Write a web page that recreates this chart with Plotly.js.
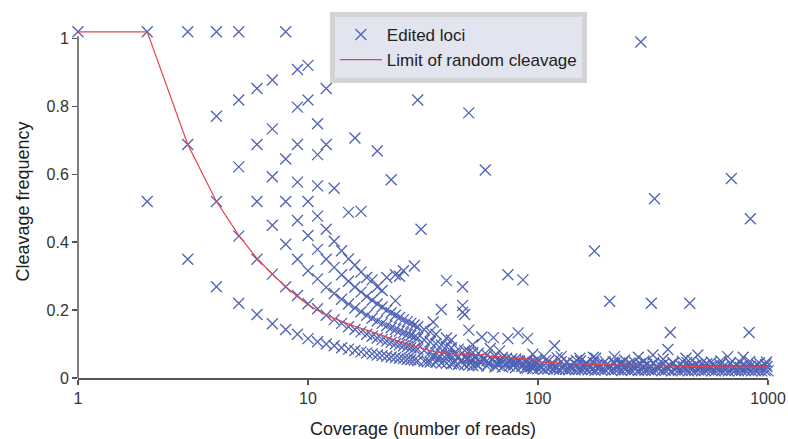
<!DOCTYPE html>
<html>
<head>
<meta charset="utf-8">
<script src="https://cdn.plot.ly/plotly-3.0.1.min.js"></script>
<style>html,body{margin:0;padding:0;background:#fff;}#chart{width:788px;height:439px;}</style>
</head>
<body>
<div id="chart"></div>
<script>
// Edited loci, low coverage (1-13 reads)
const lowX = [1, 2,2, 3,3,3, 4,4,4,4, 5,5,5,5,5, 6,6,6,6,6, 7,7,7,7,7,7, 8,8,8,8,8,8,
  9,9,9,9,9,9,9,9, 10,10,10,10,10,10,10, 11,11,11,11,11,11,11,11, 12,12,12,12,12,12,12, 13,13,13,13,13,13];
const lowY = [1.02, 1.02,0.52, 1.02,0.688,0.35, 1.02,0.771,0.52,0.269, 1.02,0.819,0.622,0.418,0.22,
  0.853,0.688,0.52,0.35,0.187, 0.878,0.734,0.593,0.45,0.306,0.16, 1.02,0.645,0.52,0.394,0.269,0.143,
  0.909,0.798,0.688,0.577,0.464,0.35,0.243,0.129, 0.921,0.819,0.52,0.42,0.316,0.219,0.116,
  0.749,0.658,0.566,0.477,0.379,0.292,0.204,0.107, 0.853,0.688,0.438,0.35,0.267,0.185,0.1,
  0.559,0.403,0.326,0.249,0.172,0.095];

// Edited loci, 14-40 reads
const midX = [14,14,14,14,14, 15,15,15,15,15,15, 16,16,16,16,16,16, 17,17,17,17,17,17,
  18,18,18,18,18, 19,19,19,19,19, 20,20,20,20,20,20, 21,21,21,21,21, 22,22,22,22,22,
  23,23,23,23,23, 24,24,24,24,24,24, 25,25,25,25,25, 26,26,26,26,26, 27,27,27,27,
  28,28,28,28, 29,29,29,29,29, 30,30,30,30,30, 31, 32,32,32,32, 34,34,34,34, 35,
  36,36,36,36, 38,38,38,38, 40,40,40,40,40];
const midY = [0.375,0.304,0.232,0.161,0.089, 0.488,0.351,0.285,0.218,0.151,0.085,
  0.707,0.333,0.268,0.206,0.143,0.081, 0.491,0.312,0.253,0.195,0.136,0.077,
  0.296,0.24,0.185,0.129,0.074, 0.289,0.229,0.176,0.123,0.071, 0.669,0.268,0.218,0.168,0.118,0.068,
  0.258,0.209,0.161,0.113,0.066, 0.296,0.2,0.154,0.109,0.064, 0.584,0.192,0.148,0.105,0.062,
  0.304,0.228,0.185,0.143,0.101,0.06, 0.3,0.178,0.138,0.098,0.058, 0.316,0.172,0.133,0.095,0.057,
  0.166,0.129,0.092,0.055, 0.161,0.125,0.089,0.054, 0.33,0.156,0.121,0.087,0.053,
  0.819,0.151,0.118,0.085,0.051, 0.438, 0.143,0.112,0.081,0.049, 0.136,0.106,0.077,0.047, 0.165,
  0.129,0.101,0.074,0.046, 0.202,0.097,0.071,0.044, 0.287,0.118,0.093,0.068,0.043];

// Edited loci, 42-95 reads
const highX = [42,42,42,42, 45,45,45, 47,47,47, 48,48,48,48, 50,50,50,50,50, 52,52,52,52,
  55,55,55, 57, 59, 60,60,60, 62, 64, 65,65,65, 68,68, 70,70,70, 74,74, 77,77, 80,80,80,
  82, 86, 88,88, 90,90,90,90, 95,95,95,95];
const highY = [0.112,0.089,0.066,0.042, 0.085,0.062,0.04, 0.269,0.214,0.194, 0.187,0.081,0.06,0.039,
  0.781,0.141,0.078,0.058,0.038, 0.098,0.075,0.056,0.037, 0.073,0.054,0.036, 0.121, 0.613,
  0.068,0.051,0.035, 0.087, 0.119, 0.064,0.049,0.033, 0.08,0.047, 0.061,0.047,0.032, 0.304,0.116,
  0.056,0.044, 0.056,0.043,0.031, 0.133, 0.289, 0.05,0.029, 0.116,0.051,0.04,0.029,
  0.07,0.046,0.036,0.028];

// Extra loci in the 30-100 band
const extraX = [33,35,37,39,41,43,44,46,49,51,53,54,56,58,61,63,66,67,69,72,73,75,76,78,79,83,85,87,92,93,97];
const extraY = [0.048,0.062,0.058,0.052,0.067,0.044,0.071,0.05,0.056,0.046,0.06,0.04,0.048,0.053,0.042,
  0.055,0.045,0.038,0.052,0.04,0.058,0.035,0.048,0.037,0.044,0.05,0.034,0.041,0.045,0.033,0.039];

// Isolated loci above the band (100-1000 reads)
const scatX = [280,321,693,838,176,205,311,457,376,827,118,367,215,126,174,273,316,495,668,780,440,106,152,233,977];
const scatY = [0.99,0.528,0.588,0.469,0.374,0.226,0.22,0.22,0.134,0.134,0.095,0.084,0.063,0.063,0.061,
  0.061,0.068,0.068,0.063,0.061,0.058,0.063,0.058,0.044,0.039];

// Dense band of loci (high coverage, low frequency)
const denseX = [95,100,103,106,110,113,117,120,124,128, 132,136,140,145,150,155,160,165,171,177,
  183,189,195,202,209,216,223,231,239,247, 255,264,273,282,292,302,312,323,334,345,
  357,369,381,394,408,422,436,451,466,482, 498,515,533,551,570,589,609,630,651,673,
  696,720,744,769,795,822,850,879,909,940, 972,1000];
const denseY = [0.028,0.027,0.029,0.026,0.027,0.03,0.026,0.027,0.025,0.028,
  0.026,0.025,0.027,0.024,0.026,0.025,0.028,0.024,0.025,0.023,
  0.026,0.024,0.025,0.027,0.023,0.024,0.026,0.022,0.025,0.024,
  0.023,0.026,0.022,0.024,0.023,0.025,0.022,0.024,0.026,0.022,
  0.023,0.025,0.021,0.024,0.022,0.023,0.025,0.021,0.023,0.022,
  0.024,0.021,0.023,0.025,0.022,0.021,0.024,0.022,0.023,0.021,
  0.024,0.022,0.021,0.023,0.022,0.024,0.021,0.022,0.023,0.021, 0.022,0.021];
const dense2X = [98,102,108,115,119,126,130,138,143,148, 153,158,163,168,174,180,186,192,199,206,
  212,220,227,235,243,251,260,268,278,287, 297,307,318,328,340,351,363,375,388,401,
  415,429,444,458,474,490,506,524,542,560, 580,599,620,640,662,685,708,732,757,782,
  808,836,864,894,925,990];
const dense2Y = [0.045,0.038,0.052,0.041,0.036,0.048,0.04,0.035,0.044,0.038,
  0.05,0.036,0.042,0.034,0.046,0.037,0.033,0.043,0.039,0.035,
  0.047,0.036,0.041,0.033,0.038,0.044,0.034,0.036,0.042,0.033,
  0.039,0.035,0.045,0.032,0.037,0.041,0.033,0.036,0.043,0.032,
  0.038,0.034,0.046,0.033,0.036,0.04,0.032,0.035,0.042,0.033,
  0.037,0.031,0.039,0.034,0.032,0.044,0.033,0.036,0.031,0.038,
  0.033,0.035,0.031,0.04,0.032,0.034];
const dense3X = [99,111,121,134,147,162,178,196,216,238,262,289,318,350,386,425,468,515,567,624,687,756,833,917,985];
const dense3Y = [0.055,0.05,0.06,0.047,0.052,0.045,0.058,0.049,0.044,0.053,0.047,0.05,0.043,0.055,0.046,
  0.049,0.052,0.044,0.047,0.05,0.043,0.046,0.049,0.044,0.047];

// Limit of random cleavage
const limitX = [1,2,3,4,5,6,7,8,9,10,12,14,16,18,20,25,30,35,40,45,50,55,58,62,68,75,85,95,100,130,200,300,400,600,800,1000];
const limitY = [1.02,1.02,0.688,0.52,0.42,0.352,0.306,0.268,0.24,0.216,0.185,0.167,0.152,0.141,0.131,0.107,0.092,0.078,0.073,0.07,0.068,0.066,0.071,0.064,0.063,0.06,0.057,0.054,0.048,0.043,0.039,0.036,0.034,0.033,0.032,0.033];

const locX = [].concat(lowX, midX, highX, extraX, scatX, denseX, dense2X, dense3X);
const locY = [].concat(lowY, midY, highY, extraY, scatY, denseY, dense2Y, dense3Y);

const FONT = '"Liberation Sans", Arial, Helvetica, sans-serif';
const AXIS_COLOR = '#555';

const traces = [
  {
    x: locX, y: locY, type: 'scatter', mode: 'markers', name: 'Edited loci',
    cliponaxis: false,
    marker: {symbol: 'x-thin-open', size: 11, color: '#5062b4', line: {width: 1.3, color: '#5062b4'}}
  },
  {
    x: limitX, y: limitY, type: 'scatter', mode: 'lines', name: 'Limit of random cleavage',
    cliponaxis: false,
    line: {color: '#e8424f', width: 1.2}
  }
];

const layout = {
  width: 788, height: 439,
  margin: {l: 78, r: 20, t: 22, b: 61},
  paper_bgcolor: '#ffffff', plot_bgcolor: '#ffffff',
  font: {family: FONT, color: '#222'},
  showlegend: true,
  legend: {
    x: 0.365, y: 1.037, xanchor: 'left', yanchor: 'top',
    bgcolor: '#e2e4f0', bordercolor: '#d4d4d4', borderwidth: 5,
    font: {family: FONT, size: 17, color: '#222'},
    itemwidth: 42,
    tracegroupgap: 0
  },
  xaxis: {
    type: 'log', range: [0, 3],
    tickvals: [1, 10, 100, 1000], ticktext: ['1', '10', '100', '1000'],
    showgrid: false, zeroline: false,
    showline: true, linecolor: AXIS_COLOR, linewidth: 1.5,
    ticks: 'outside', ticklen: 5, tickcolor: AXIS_COLOR, tickwidth: 1.5,
    tickfont: {family: FONT, size: 16, color: '#333'},
    title: {text: 'Coverage (number of reads)', standoff: 23, font: {family: FONT, size: 18, color: '#222'}}
  },
  yaxis: {
    range: [0, 1.04],
    tickvals: [0, 0.2, 0.4, 0.6, 0.8, 1], ticktext: ['0', '0.2', '0.4', '0.6', '0.8', '1'],
    showgrid: false, zeroline: false,
    showline: false,
    ticks: 'outside', ticklen: 5, tickcolor: AXIS_COLOR, tickwidth: 1.5,
    tickfont: {family: FONT, size: 16, color: '#333'},
    title: {text: 'Cleavage frequency', standoff: 12, font: {family: FONT, size: 18, color: '#222'}}
  },
  shapes: [
    {type: 'line', xref: 'paper', yref: 'y', x0: 0, x1: 0, y0: 0, y1: 1.007,
     line: {color: AXIS_COLOR, width: 1.5}, layer: 'above'}
  ]
};

Plotly.newPlot('chart', traces, layout, {displayModeBar: false, staticPlot: true});
</script>
</body>
</html>
